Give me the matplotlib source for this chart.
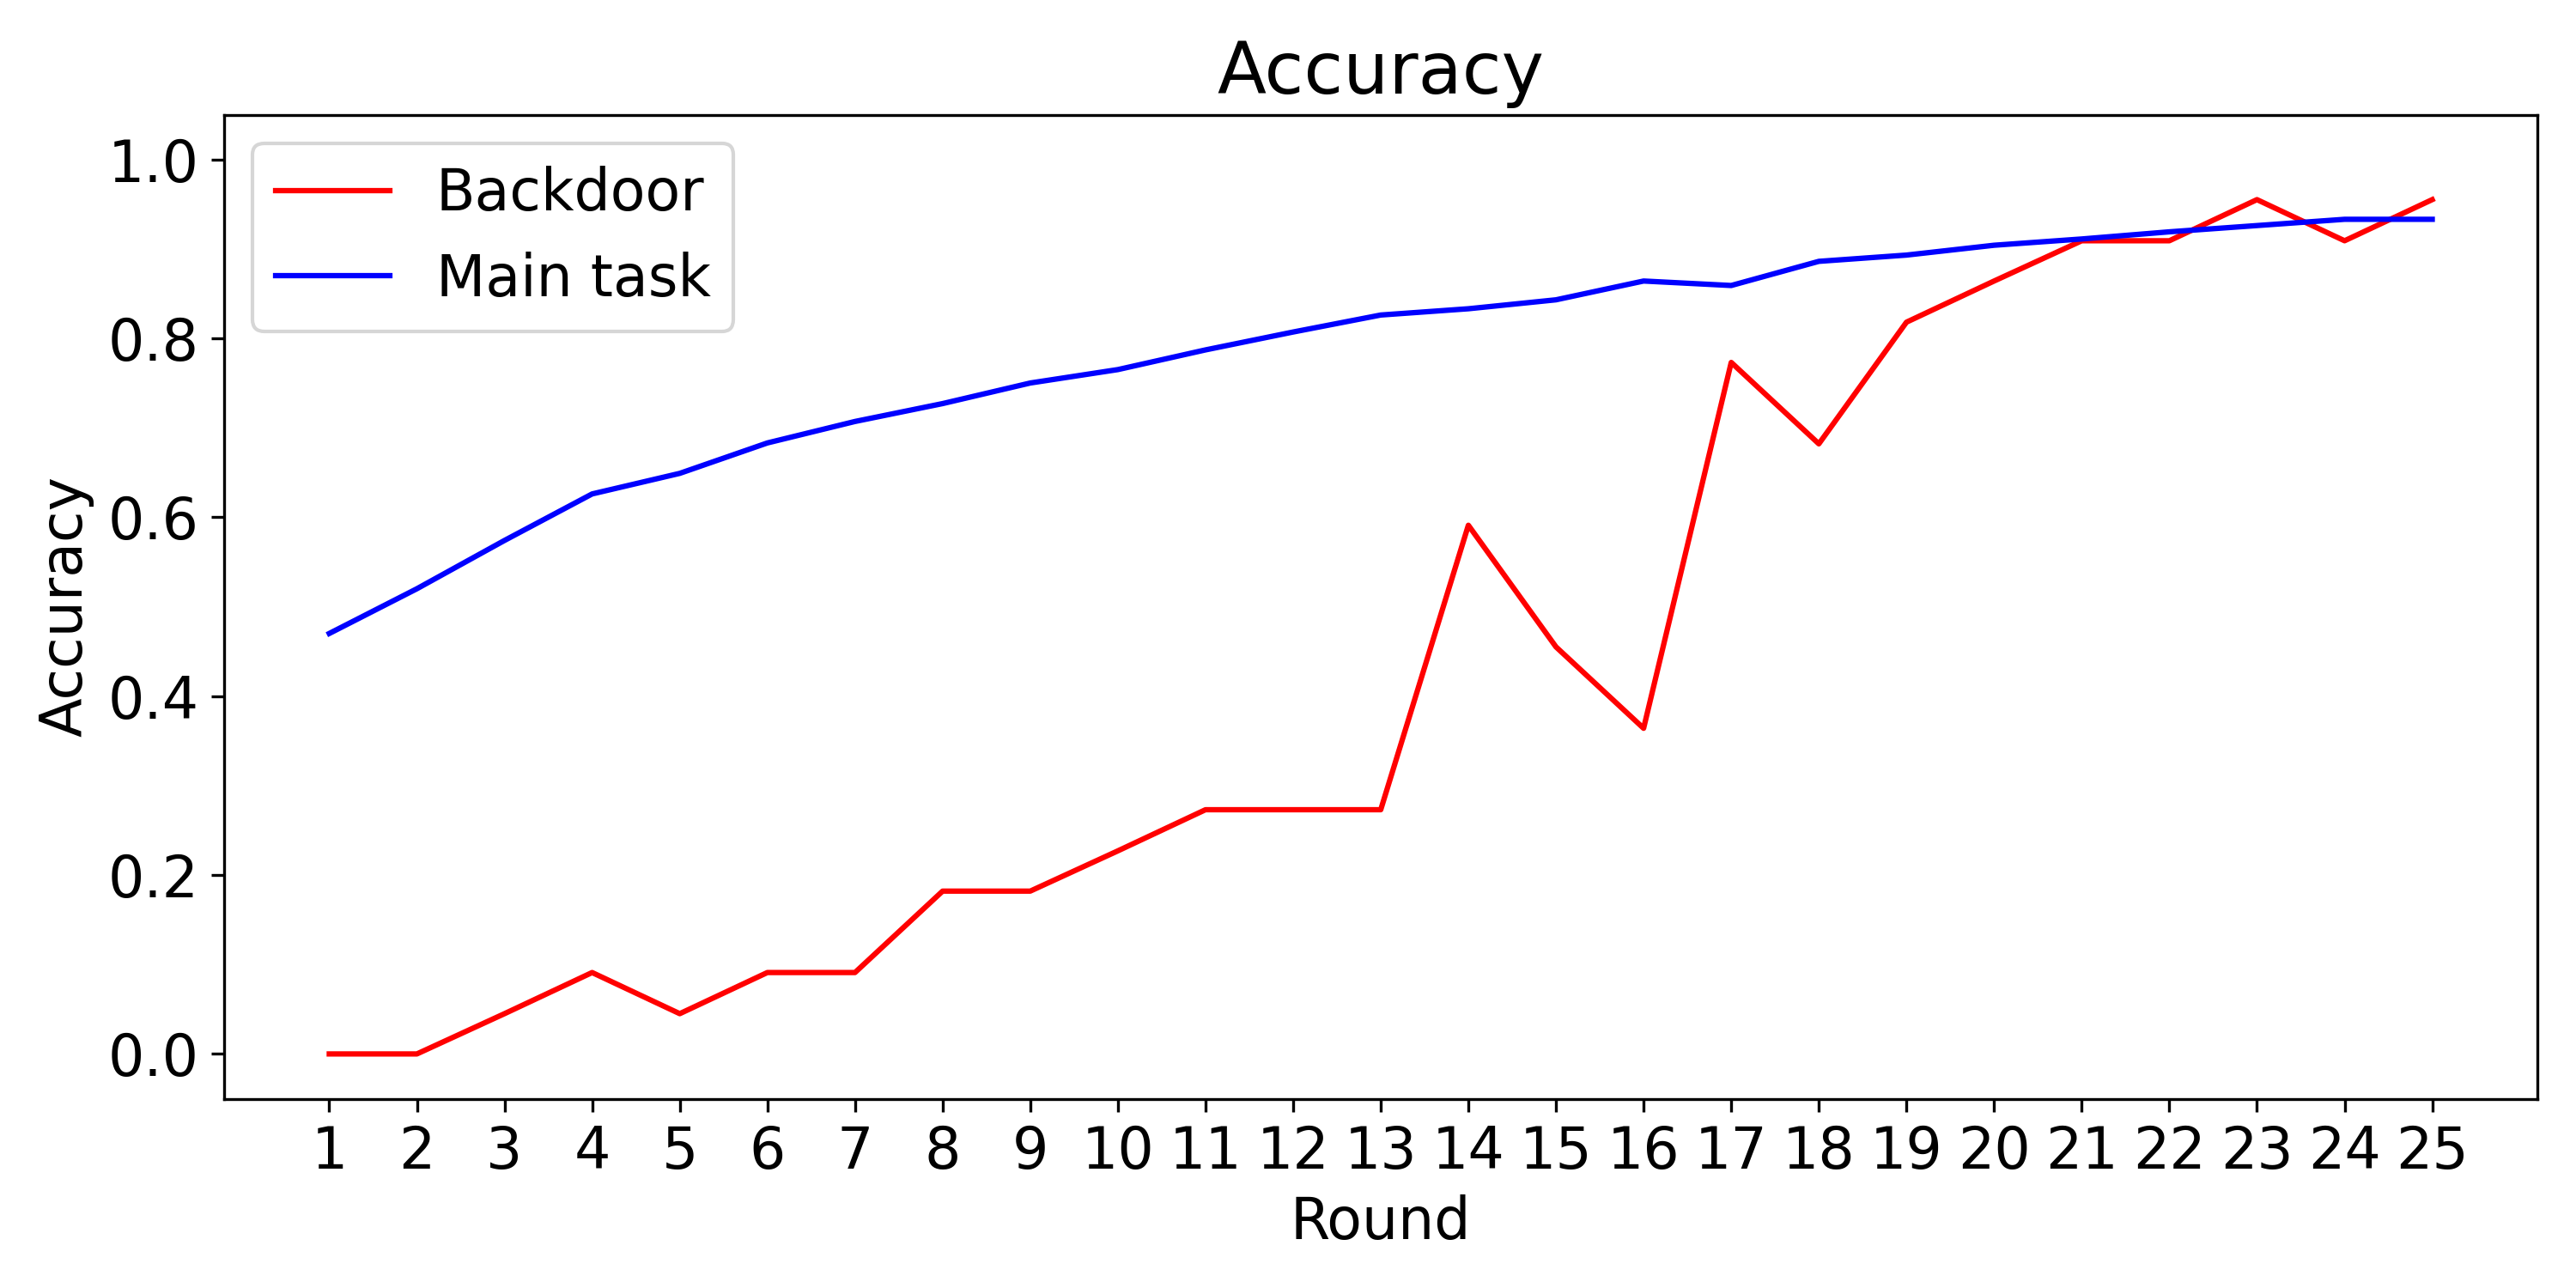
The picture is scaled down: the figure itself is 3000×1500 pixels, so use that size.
import numpy as np
import matplotlib.pyplot as plt

# accuracy per round
rounds = np.arange(1, 26)
backdoor = [0.0, 0.0, 0.045, 0.091, 0.045, 0.091, 0.091, 0.182, 0.182, 0.227,
            0.273, 0.273, 0.273, 0.591, 0.455, 0.364, 0.773, 0.682, 0.818, 0.864,
            0.909, 0.909, 0.955, 0.909, 0.955]
main_task = [0.470, 0.520, 0.574, 0.626, 0.649, 0.683, 0.707, 0.727, 0.750, 0.765,
             0.787, 0.807, 0.826, 0.833, 0.843, 0.864, 0.859, 0.886, 0.893, 0.904,
             0.911, 0.919, 0.926, 0.933, 0.933]

fig, ax = plt.subplots(figsize=(10, 5), dpi=300)
ax.plot(rounds, backdoor, 'r-', label="Backdoor")
ax.plot(rounds, main_task, 'b-', label="Main task")

ax.set_title("Accuracy", fontsize=20)
ax.set_xlabel("Round", fontsize=16)
ax.set_ylabel("Accuracy", fontsize=16)
ax.set_xticks(rounds)
ax.set_ylim(-0.05, 1.05)
ax.tick_params(labelsize=16)
ax.legend(loc='upper left', fontsize=16)

fig.subplots_adjust(left=0.087, right=0.985, top=0.911, bottom=0.147)
fig.savefig("out.png", dpi=300)
